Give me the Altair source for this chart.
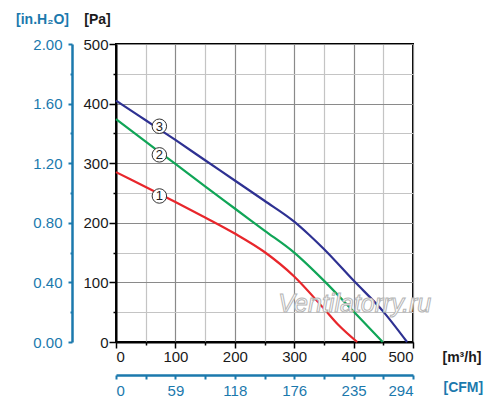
import altair as alt
import pandas as pd

# ---- data ----
flow1 = [0, 50, 100, 150, 200, 250, 300, 350, 375, 406]
pa1 = [285, 260, 235, 209, 182, 151, 110, 56, 28, 0]
flow2 = [0, 50, 100, 150, 200, 250, 300, 350, 400, 449]
pa2 = [374, 336, 299, 261, 224, 187, 150, 103, 51, 0]
flow3 = [0, 50, 100, 150, 200, 250, 300, 325, 350, 400, 450, 490]
pa3 = [405, 372, 339, 305, 271, 237, 202, 180, 156, 103, 51, 0]

series_names = ["1", "2", "3"]
series_colors = ["#e8262b", "#10a557", "#2e3192"]

label_flow = [73, 73, 73]
label_pa = [245, 314, 362]

flow_ticks = list(range(0, 501, 50))
pa_ticks = list(range(0, 501, 50))
h2o_ticks = [round(i * 0.2, 1) for i in range(11)]
cfm_ticks = [round(i * 29.4, 1) for i in range(11)]

BLUE = "#1b79ad"
FONT = "Liberation Sans"

rows = []
for name, fl, pa in zip(series_names, [flow1, flow2, flow3], [pa1, pa2, pa3]):
    for f, p in zip(fl, pa):
        rows.append({"series": name, "flow": f, "pa": p})
curves = pd.DataFrame(rows)
labels = pd.DataFrame({"series": series_names, "flow": label_flow, "pa": label_pa})
wm = pd.DataFrame({"flow": [402], "pa": [63], "text": ["Ventilatorry.ru"]})

major = "datum.value % 100 === 0"
x_axis = alt.Axis(
    values=flow_ticks,
    labelExpr=f"{major} ? datum.label : ''",
    grid=True,
    gridColor={"condition": {"test": major, "value": "#8a8a8a"}, "value": "#c4c4c4"},
    gridWidth=1.2,
    tickSize={"condition": {"test": major, "value": 6}, "value": 3},
    tickColor="black", tickWidth=1.5,
    domainColor="black", domainWidth=2,
    labelFont=FONT, labelFontSize=15, labelColor="#1a1a1a", labelPadding=1,
    title="[m³/h]", titleX=326, titleY=15, titleAlign="left", titleBaseline="middle",
    titleFont=FONT, titleFontSize=14, titleFontWeight="bold", titleColor="#1a1a1a",
)
y_axis = alt.Axis(
    values=pa_ticks,
    labelExpr=f"{major} ? datum.label : ''",
    grid=True,
    gridColor={"condition": {"test": major, "value": "#8a8a8a"}, "value": "#c4c4c4"},
    gridWidth=1.2,
    tickSize={"condition": {"test": major, "value": 7}, "value": 3},
    tickColor="black", tickWidth=1.5,
    domainColor="black", domainWidth=2,
    labelFont=FONT, labelFontSize=15, labelColor="#1a1a1a", labelPadding=1,
    title="[Pa]", titleX=-19, titleY=-25, titleAngle=0, titleAlign="center", titleBaseline="middle",
    titleFont=FONT, titleFontSize=14, titleFontWeight="bold", titleColor="#1a1a1a",
)

xs = alt.Scale(domain=[0, 500], nice=False, zero=False)
ys = alt.Scale(domain=[0, 500], nice=False, zero=False)
X = alt.X("flow:Q", scale=xs, axis=x_axis)
Y = alt.Y("pa:Q", scale=ys, axis=y_axis)

lines = alt.Chart(curves).mark_line(strokeWidth=2.2, interpolate="monotone").encode(
    x=X, y=Y,
    color=alt.Color("series:N", scale=alt.Scale(domain=series_names, range=series_colors), legend=None),
    order="flow:Q",
)
circles = alt.Chart(labels).mark_point(
    shape="circle", filled=True, fill="white", stroke="#333333", strokeWidth=1, size=210, opacity=1
).encode(x=X, y=Y)
digits = alt.Chart(labels).mark_text(
    font=FONT, fontSize=13, color="#222222", baseline="middle", align="center", dy=0.5
).encode(x=X, y=Y, text="series:N")
watermark = alt.Chart(wm).mark_text(
    font=FONT, fontSize=25, fontStyle="italic", fill="white", stroke="#b5b5b5", strokeWidth=1,
    align="center", baseline="middle"
).encode(x=X, y=Y, text="text:N")

main = alt.layer(lines, watermark, circles, digits)

h2o_axis = alt.Axis(
    orient="left", offset=44,
    values=h2o_ticks,
    labelExpr="round(datum.value * 10) % 4 === 0 ? format(datum.value, '.2f') : ''",
    grid=False,
    tickSize={"condition": {"test": "round(datum.value * 10) % 4 === 0", "value": 4}, "value": 2},
    tickColor=BLUE, tickWidth=2,
    domainColor=BLUE, domainWidth=2.5,
    labelFont=FONT, labelFontSize=15, labelColor=BLUE, labelPadding=6,
    title="[in.H₂O]", titleX=-30, titleY=-25, titleAngle=0, titleAlign="center", titleBaseline="middle",
    titleFont=FONT, titleFontSize=14, titleFontWeight="bold", titleColor=BLUE,
)
h2o = alt.Chart(pd.DataFrame({"h2o": [0, 2]})).mark_point(opacity=0).encode(
    y=alt.Y("h2o:Q", scale=alt.Scale(domain=[0, 2], nice=False, zero=False), axis=h2o_axis)
)

cfm_axis = alt.Axis(
    orient="bottom", offset=33,
    values=cfm_ticks,
    labelExpr="round(datum.value / 29.4) % 2 === 0 ? format(datum.value, '.0f') : ''",
    grid=False,
    tickSize=4, tickColor=BLUE, tickWidth=2,
    domainColor=BLUE, domainWidth=2.5,
    labelFont=FONT, labelFontSize=15, labelColor=BLUE, labelPadding=4,
    title="[CFM]", titleX=327, titleY=12, titleAlign="left", titleBaseline="middle",
    titleFont=FONT, titleFontSize=14, titleFontWeight="bold", titleColor=BLUE,
)
cfm = alt.Chart(pd.DataFrame({"cfm": [0, 294]})).mark_point(opacity=0).encode(
    x=alt.X("cfm:Q", scale=alt.Scale(domain=[0, 294], nice=False, zero=False), axis=cfm_axis)
)

chart = (
    alt.layer(main, h2o, cfm)
    .resolve_scale(x="independent", y="independent")
    .properties(
        width=297, height=298,
        autosize=alt.AutoSizeParams(type="none"),
        padding={"left": 108, "top": 36, "right": 79, "bottom": 63},
        background="white",
    )
    .configure_view(stroke="black", strokeWidth=2)
)

chart.save("out.html", embed_options={"renderer": "svg", "actions": False})
